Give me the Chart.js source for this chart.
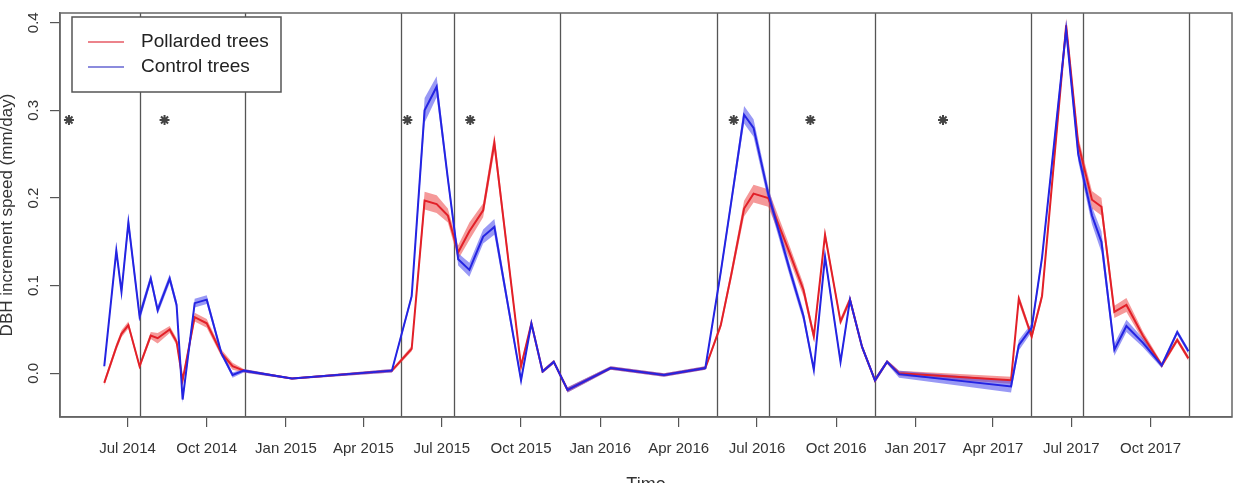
<!DOCTYPE html>
<html>
<head>
<meta charset="utf-8">
<title>DBH increment speed</title>
<script src="https://cdn.jsdelivr.net/npm/chart.js@4.4.0/dist/chart.umd.min.js"></script>
<style>
html, body { margin: 0; padding: 0; background: #fff; overflow: hidden; }
canvas { display: block; }
</style>
</head>
<body>
<canvas id="plotHere" width="1239" height="483"></canvas>
<script>
// measurement dates, shared by both groups
const dates = [
  "2014-06-04", "2014-06-18", "2014-06-24", "2014-07-02", "2014-07-15", "2014-07-28",
  "2014-08-05", "2014-08-19", "2014-08-27", "2014-09-03", "2014-09-17", "2014-10-01",
  "2014-10-18", "2014-10-31", "2014-11-13", "2015-01-08", "2015-05-04", "2015-05-27",
  "2015-06-11", "2015-06-25", "2015-07-08", "2015-07-20", "2015-08-02", "2015-08-18",
  "2015-08-31", "2015-10-01", "2015-10-13", "2015-10-26", "2015-11-08", "2015-11-24",
  "2016-01-13", "2016-03-15", "2016-05-02", "2016-05-20", "2016-06-01", "2016-06-16",
  "2016-06-27", "2016-07-14", "2016-08-08", "2016-08-24", "2016-09-05", "2016-09-18",
  "2016-10-06", "2016-10-17", "2016-10-31", "2016-11-15", "2016-11-29", "2016-12-13",
  "2017-04-22", "2017-05-01", "2017-05-16", "2017-05-28", "2017-06-25", "2017-07-09",
  "2017-07-25", "2017-08-05", "2017-08-20", "2017-09-03", "2017-09-22", "2017-10-14",
  "2017-11-01", "2017-11-14"
];
// pollarded trees: mean and half width of the shaded band
const pollMean = [
  -0.011, 0.030, 0.045, 0.055, 0.008, 0.043,
  0.040, 0.050, 0.036, -0.008, 0.064, 0.057,
  0.023, 0.008, 0.003, -0.006, 0.003, 0.028,
  0.197, 0.193, 0.180, 0.138, 0.162, 0.186,
  0.263, 0.008, 0.057, 0.002, 0.013, -0.019,
  0.006, -0.002, 0.006, 0.055, 0.112, 0.188,
  0.205, 0.200, 0.137, 0.095, 0.042, 0.158,
  0.059, 0.084, 0.030, -0.008, 0.013, 0.000,
  -0.008, 0.085, 0.042, 0.088, 0.397, 0.262,
  0.198, 0.190, 0.070, 0.078, 0.043, 0.009,
  0.038, 0.017
];
const pollErr = [
  0.003, 0.004, 0.004, 0.004, 0.003, 0.004,
  0.006, 0.004, 0.004, 0.004, 0.005, 0.005,
  0.004, 0.004, 0.002, 0.001, 0.002, 0.003,
  0.010, 0.010, 0.008, 0.008, 0.010, 0.008,
  0.010, 0.004, 0.002, 0.002, 0.002, 0.003,
  0.002, 0.002, 0.002, 0.004, 0.006, 0.009,
  0.010, 0.010, 0.008, 0.007, 0.005, 0.005,
  0.004, 0.004, 0.003, 0.003, 0.002, 0.003,
  0.004, 0.005, 0.004, 0.005, 0.008, 0.008,
  0.010, 0.010, 0.007, 0.008, 0.005, 0.003,
  0.003, 0.003
];
// control trees: mean and half width of the shaded band
const ctrlMean = [
  0.008, 0.140, 0.093, 0.172, 0.065, 0.108,
  0.072, 0.108, 0.078, -0.030, 0.080, 0.084,
  0.023, -0.002, 0.003, -0.006, 0.003, 0.088,
  0.300, 0.327, 0.222, 0.130, 0.118, 0.156,
  0.167, -0.008, 0.057, 0.002, 0.013, -0.019,
  0.006, -0.002, 0.006, 0.116, 0.195, 0.295,
  0.280, 0.205, 0.118, 0.065, 0.004, 0.133,
  0.013, 0.084, 0.030, -0.008, 0.013, -0.001,
  -0.015, 0.032, 0.052, 0.132, 0.392, 0.250,
  0.180, 0.150, 0.027, 0.054, 0.035, 0.009,
  0.047, 0.025
];
const ctrlErr = [
  0.003, 0.006, 0.005, 0.008, 0.006, 0.005,
  0.005, 0.005, 0.005, 0.004, 0.005, 0.005,
  0.003, 0.003, 0.002, 0.001, 0.002, 0.004,
  0.014, 0.012, 0.006, 0.007, 0.008, 0.008,
  0.009, 0.004, 0.002, 0.002, 0.002, 0.003,
  0.002, 0.002, 0.002, 0.005, 0.006, 0.010,
  0.010, 0.008, 0.007, 0.006, 0.004, 0.005,
  0.004, 0.004, 0.003, 0.003, 0.002, 0.004,
  0.007, 0.006, 0.005, 0.005, 0.008, 0.008,
  0.010, 0.012, 0.007, 0.007, 0.005, 0.003,
  0.003, 0.003
];
// significance marks
const starDates = ["2014-04-24", "2014-08-13", "2015-05-22", "2015-08-03", "2016-06-04", "2016-09-01", "2017-02-02"];
const starLevel = 0.289;
// period limits
const vLineDates = [
  "2014-07-15", "2014-11-15", "2015-05-15", "2015-07-15", "2015-11-15", "2016-05-15",
  "2016-07-15", "2016-11-15", "2017-05-15", "2017-07-15", "2017-11-15"
];
const xTickDates = [
  "2014-07-01", "2014-10-01", "2015-01-01", "2015-04-01", "2015-07-01", "2015-10-01", "2016-01-01",
  "2016-04-01", "2016-07-01", "2016-10-01", "2017-01-01", "2017-04-01", "2017-07-01", "2017-10-01"
];
const xTickLabels = [
  "Jul 2014", "Oct 2014", "Jan 2015", "Apr 2015", "Jul 2015", "Oct 2015", "Jan 2016",
  "Apr 2016", "Jul 2016", "Oct 2016", "Jan 2017", "Apr 2017", "Jul 2017", "Oct 2017"
];
const yTicks = [0.0, 0.1, 0.2, 0.3, 0.4];

const day = s => Date.parse(s) / 86400000;
const band = (mean, err, sign) => dates.map((d, i) => ({ x: day(d), y: mean[i] + sign * err[i] }));
const line = mean => dates.map((d, i) => ({ x: day(d), y: mean[i] }));

Chart.defaults.font.family = '"Liberation Sans", Arial, sans-serif';
Chart.defaults.color = '#333';

// vertical period lines and the box round the plot
const frame = {
  id: 'frame',
  beforeDatasetsDraw(chart) {
    const { ctx, chartArea: a, scales: { x } } = chart;
    ctx.save();
    ctx.strokeStyle = '#555';
    ctx.lineWidth = 1.3;
    vLineDates.forEach(d => {
      const px = Math.round(x.getPixelForValue(day(d))) + 0.5;
      ctx.beginPath();
      ctx.moveTo(px, a.top);
      ctx.lineTo(px, a.bottom);
      ctx.stroke();
    });
    ctx.restore();
  },
  afterDatasetsDraw(chart) {
    const { ctx, chartArea: a } = chart;
    ctx.save();
    ctx.strokeStyle = '#666';
    ctx.lineWidth = 1.5;
    ctx.strokeRect(a.left, a.top, a.right - a.left, a.bottom - a.top);
    ctx.restore();
  }
};

// R style legend box in the top left corner
const boxLegend = {
  id: 'boxLegend',
  afterDraw(chart) {
    const { ctx, chartArea: a } = chart;
    const items = chart.data.datasets.filter(ds => ds.legendColor);
    const bx = a.left + 12, by = a.top + 4;
    ctx.save();
    ctx.fillStyle = '#fff';
    ctx.fillRect(bx, by, 209, 75);
    ctx.strokeStyle = '#555';
    ctx.lineWidth = 1.5;
    ctx.strokeRect(bx, by, 209, 75);
    ctx.font = '19px "Liberation Sans", Arial, sans-serif';
    ctx.textBaseline = 'middle';
    items.forEach((ds, i) => {
      const y = by + 25 + i * 25;
      ctx.strokeStyle = ds.legendColor;
      ctx.lineWidth = 2;
      ctx.beginPath();
      ctx.moveTo(bx + 16, y);
      ctx.lineTo(bx + 52, y);
      ctx.stroke();
      ctx.fillStyle = '#222';
      ctx.fillText(ds.label, bx + 69, y);
    });
    ctx.restore();
  }
};

const plot = new Chart(document.getElementById('plotHere'), {
  type: 'line',
  data: {
    datasets: [
      { label: 'pollLow', data: band(pollMean, pollErr, -1), borderWidth: 0, pointRadius: 0, fill: false, order: 6 },
      { label: 'pollHigh', data: band(pollMean, pollErr, 1), borderWidth: 0, pointRadius: 0, fill: '-1',
        backgroundColor: 'rgba(236,70,70,0.55)', order: 6 },
      { label: 'ctrlLow', data: band(ctrlMean, ctrlErr, -1), borderWidth: 0, pointRadius: 0, fill: false, order: 5 },
      { label: 'ctrlHigh', data: band(ctrlMean, ctrlErr, 1), borderWidth: 0, pointRadius: 0, fill: '-1',
        backgroundColor: 'rgba(70,70,236,0.55)', order: 5 },
      { label: 'Pollarded trees', data: line(pollMean), borderColor: 'rgb(226,32,40)', borderWidth: 2,
        pointRadius: 0, fill: false, order: 3, legendColor: 'rgba(230,90,100,0.75)' },
      { label: 'Control trees', data: line(ctrlMean), borderColor: 'rgb(36,36,226)', borderWidth: 2,
        pointRadius: 0, fill: false, order: 2, legendColor: 'rgba(100,100,210,0.75)' },
      { label: 'stars', data: starDates.map(d => ({ x: day(d), y: starLevel })), showLine: false,
        pointStyle: 'star', pointRadius: 5, pointBorderWidth: 2, borderColor: '#444', order: 1 }
    ]
  },
  options: {
    responsive: false,
    animation: false,
    devicePixelRatio: 1,
    events: [],
    layout: { padding: { left: 0, right: 3, top: 13, bottom: 0 } },
    plugins: { legend: { display: false }, tooltip: { enabled: false } },
    elements: { line: { tension: 0 } },
    scales: {
      x: {
        type: 'linear',
        min: day('2014-07-01') - 78.4,
        max: day('2017-10-01') + 94.6,
        afterBuildTicks: s => { s.ticks = xTickDates.map(d => ({ value: day(d) })); },
        afterFit: s => { s.height = 66; s.paddingLeft = 0; s.paddingRight = 0; },
        grid: { drawOnChartArea: false, tickLength: 10, color: '#555', lineWidth: 1.2 },
        border: { color: '#666', width: 1.5 },
        ticks: { autoSkip: false, minRotation: 0, maxRotation: 0, padding: 13, color: '#333',
                 font: { size: 15 }, callback: (v, i) => xTickLabels[i] },
        title: { display: true, text: 'Time', color: '#333', font: { size: 18 }, padding: { top: 0, bottom: -13 } }
      },
      y: {
        min: -0.0499,
        max: 0.4111,
        afterBuildTicks: s => { s.ticks = yTicks.map(v => ({ value: v })); },
        afterFit: s => { s.width = 60; s.paddingTop = 0; s.paddingBottom = 0; },
        grid: { drawOnChartArea: false, tickLength: 10, color: '#555', lineWidth: 1.2 },
        border: { color: '#666', width: 1.5 },
        ticks: { minRotation: 90, maxRotation: 90, crossAlign: 'center', padding: 6, color: '#333',
                 font: { size: 15 }, callback: v => v.toFixed(1) },
        title: { display: true, text: 'DBH increment speed (mm/day)', color: '#333', font: { size: 17 },
                 padding: { top: -3, bottom: 0 } }
      }
    }
  },
  plugins: [frame, boxLegend]
});
</script>
</body>
</html>
